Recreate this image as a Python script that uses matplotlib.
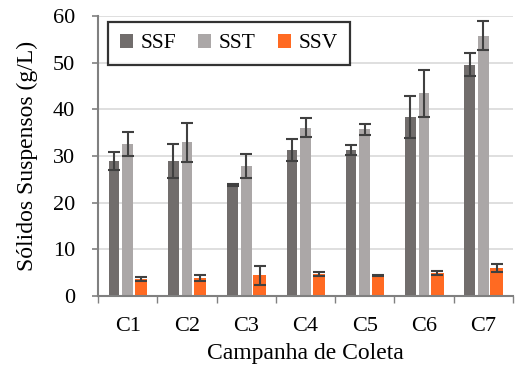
import matplotlib
matplotlib.use("Agg")
import matplotlib.pyplot as plt
import numpy as np

categories = ["C1", "C2", "C3", "C4", "C5", "C6", "C7"]
ssf = [28.9, 28.9, 23.8, 31.3, 31.3, 38.4, 49.6]
ssf_err = [1.9, 3.6, 0.3, 2.3, 1.1, 4.5, 2.4]
sst = [32.6, 32.9, 27.9, 36.1, 35.7, 43.4, 55.8]
sst_err = [2.5, 4.2, 2.6, 2.0, 1.1, 5.0, 3.1]
ssv = [3.6, 3.9, 4.4, 4.7, 4.4, 4.9, 6.1]
ssv_err = [0.45, 0.7, 2.0, 0.4, 0.15, 0.45, 0.86]
series_names = ["SSF", "SST", "SSV"]
colors = ["#716d6c", "#aba7a7", "#ff6a22"]

plt.rcParams['font.family'] = ['Liberation Serif', 'DejaVu Serif']

fig = plt.figure(figsize=(5.16, 3.66), dpi=100)
ax = fig.add_axes([98/516, 1-296/366, 415/516, 280/366])

x = np.arange(len(categories))
offsets = [-0.23, 0.0, 0.225]
widths = [0.18, 0.18, 0.21]
ekw = dict(ecolor="#404040", elinewidth=1.5, capsize=4, capthick=1.5)
for vals, errs, off, w, c, name in zip([ssf, sst, ssv], [ssf_err, sst_err, ssv_err],
                                      offsets, widths, colors, series_names):
    ax.bar(x + off, vals, width=w, color=c, yerr=errs, error_kw=ekw, label=name, zorder=2)

ax.set_xlim(-0.5, len(categories) - 0.5)
ax.set_ylim(0, 60)
ax.set_yticks(np.arange(0, 61, 10))
ax.yaxis.grid(True, color="#d9d9d9", linewidth=1.2, zorder=0)
ax.set_axisbelow(True)

ax.set_xticks(x)
ax.set_xticklabels(categories, fontsize=16)
ax.set_xticks(np.arange(-0.5, len(categories), 1), minor=True)
ax.tick_params(axis="x", which="major", length=0, pad=15)
ax.tick_params(axis="x", which="minor", length=5, color="#808080", width=1)
ax.tick_params(axis="y", labelsize=16, length=4.5, color="#808080", width=1.2, pad=12)

for s in ["top", "right"]:
    ax.spines[s].set_visible(False)
for s in ["left", "bottom"]:
    ax.spines[s].set_color("#808080")
    ax.spines[s].set_linewidth(1.5)

ax.set_ylabel("Sólidos Suspensos (g/L)", fontsize=17, labelpad=11)
ax.set_xlabel("Campanha de Coleta", fontsize=17, labelpad=5)

leg = ax.legend(loc="upper left", bbox_to_anchor=(0.024, 0.978), ncol=3, fontsize=15.5,
                frameon=True, fancybox=False, edgecolor="black", handlelength=0.6,
                handleheight=0.6, handletextpad=0.35, columnspacing=1.05,
                borderpad=0.55, borderaxespad=0.0)
leg.get_frame().set_linewidth(1.6)

fig.savefig("out.png", dpi=100)
